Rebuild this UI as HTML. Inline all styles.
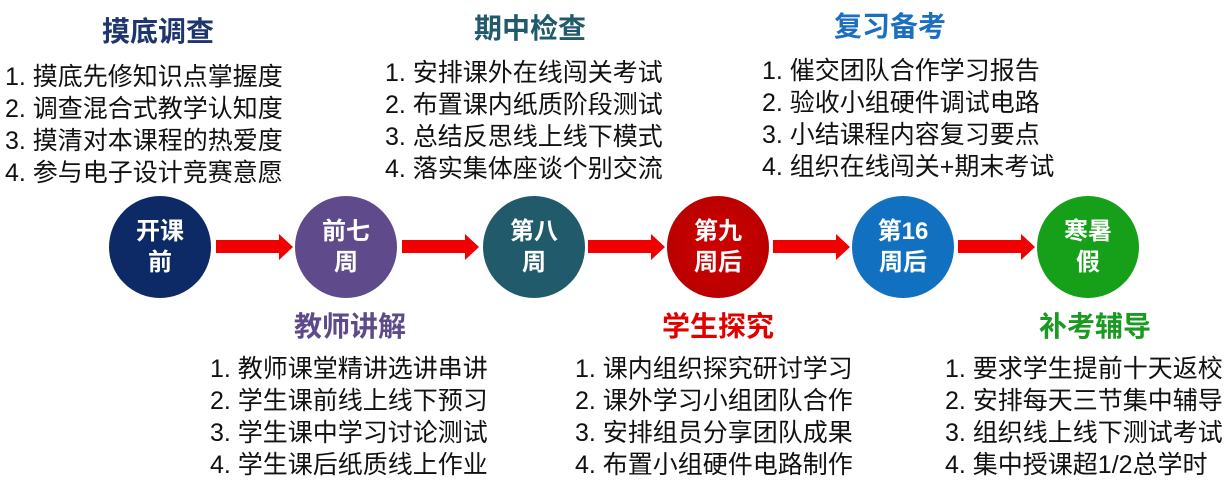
<!DOCTYPE html>
<html><head><meta charset="utf-8"><style>
body{margin:0;width:1230px;height:492px;background:#fff;position:relative;overflow:hidden;font-family:"Liberation Sans","Noto Sans CJK SC",sans-serif;}
.t{position:absolute;font-weight:bold;font-size:28px;text-align:center;width:300px;line-height:34px;}
.l{position:absolute;font-size:25px;line-height:32px;color:#111;white-space:nowrap;}
.c{position:absolute;width:102px;height:102px;border-radius:50%;color:#fff;font-weight:bold;font-size:24px;line-height:31px;text-align:center;display:flex;align-items:center;justify-content:center;top:196px;}
</style></head><body>
<div class="t" style="left:8px;top:15px;color:#1f3570">摸底调查</div>
<div class="l" style="left:5px;top:61px">1. 摸底先修知识点掌握度<br>2. 调查混合式教学认知度<br>3. 摸清对本课程的热爱度<br>4. 参与电子设计竞赛意愿</div>
<div class="t" style="left:380px;top:12px;color:#215a6a">期中检查</div>
<div class="l" style="left:385px;top:57px">1. 安排课外在线闯关考试<br>2. 布置课内纸质阶段测试<br>3. 总结反思线上线下模式<br>4. 落实集体座谈个别交流</div>
<div class="t" style="left:740px;top:10px;color:#1a6fc0">复习备考</div>
<div class="l" style="left:762px;top:55px">1. 催交团队合作学习报告<br>2. 验收小组硬件调试电路<br>3. 小结课程内容复习要点<br>4. 组织在线闯关+期末考试</div>

<div class="t" style="left:200px;top:310px;color:#5e4a8a">教师讲解</div>
<div class="l" style="left:210px;top:353px">1. 教师课堂精讲选讲串讲<br>2. 学生课前线上线下预习<br>3. 学生课中学习讨论测试<br>4. 学生课后纸质线上作业</div>
<div class="t" style="left:568px;top:310px;color:#e00000">学生探究</div>
<div class="l" style="left:575px;top:353px">1. 课内组织探究研讨学习<br>2. 课外学习小组团队合作<br>3. 安排组员分享团队成果<br>4. 布置小组硬件电路制作</div>
<div class="t" style="left:945px;top:310px;color:#1a9a20">补考辅导</div>
<div class="l" style="left:945px;top:353px">1. 要求学生提前十天返校<br>2. 安排每天三节集中辅导<br>3. 组织线上线下测试考试<br>4. 集中授课超1/2总学时</div>

<div class="c" style="left:109px;background:#0d2a66">开课<br>前</div>
<div class="c" style="left:295px;background:#5f4b8b">前七<br>周</div>
<div class="c" style="left:483px;background:#215a6b">第八<br>周</div>
<div class="c" style="left:667px;background:radial-gradient(circle,#d00000,#b00000)">第九<br>周后</div>
<div class="c" style="left:852px;background:#1270c0">第16<br>周后</div>
<div class="c" style="left:1037px;background:#16a01a">寒暑<br>假</div>

<svg width="1230" height="492" style="position:absolute;left:0;top:0">
<g fill="#f00000">
<polygon points="216,240 279,240 279,234 293,247 279,260 279,253 216,253"/>
<polygon points="402,240 465,240 465,234 479,247 465,260 465,253 402,253"/>
<polygon points="588,240 651,240 651,234 665,247 651,260 651,253 588,253"/>
<polygon points="773,240 836,240 836,234 850,247 836,260 836,253 773,253"/>
<polygon points="958,240 1021,240 1021,234 1035,247 1021,260 1021,253 958,253"/>
</g></svg>
</body></html>
